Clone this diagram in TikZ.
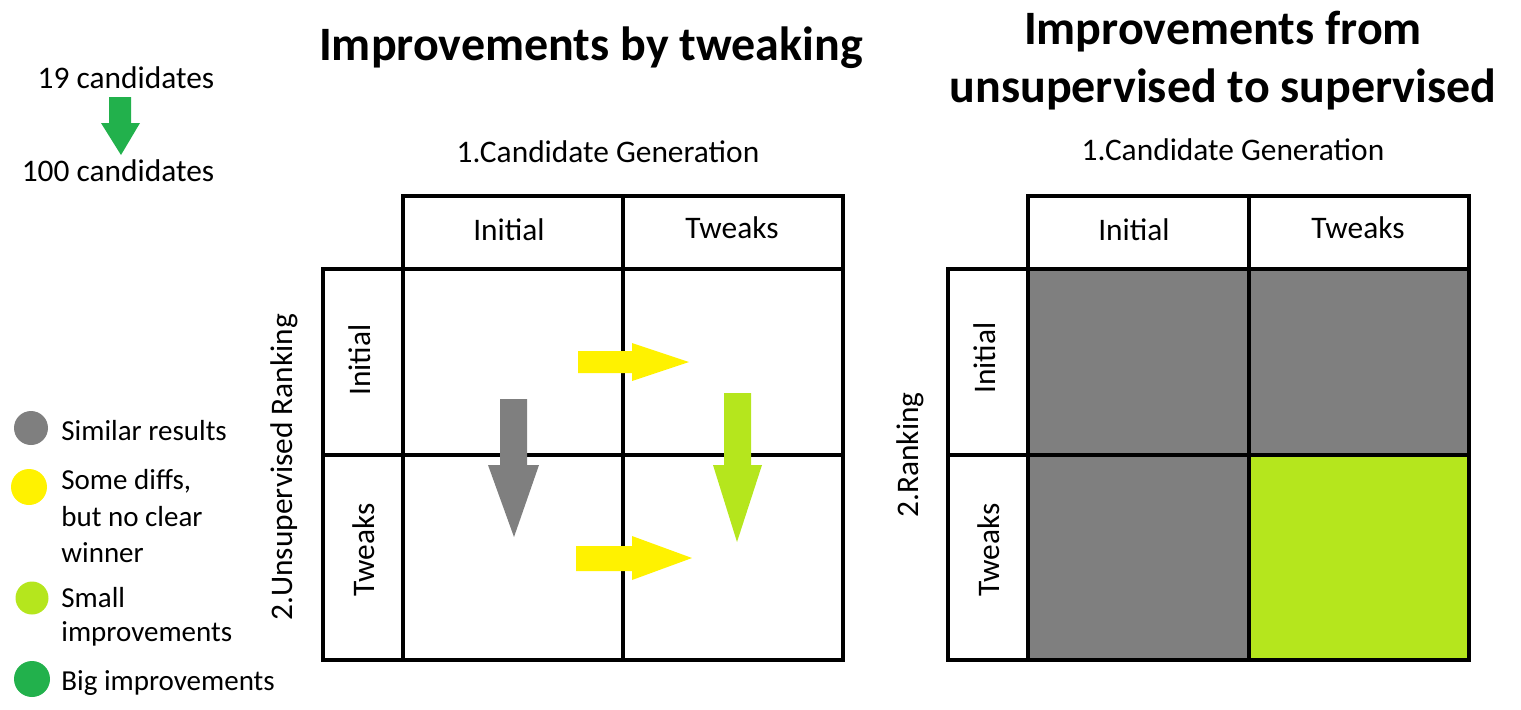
\documentclass[tikz,border=0pt]{standalone}
\usepackage{fontspec}
\setmainfont{Carlito}
\definecolor{pgray}{RGB}{127,127,127}
\definecolor{pyellow}{RGB}{255,242,0}
\definecolor{plime}{RGB}{181,230,29}
\definecolor{pgreen}{RGB}{34,177,76}
\begin{document}
\begin{tikzpicture}[x=0.5pt,y=-0.5pt,
  txt/.style={font=\fontsize{15.7}{18}\selectfont, inner sep=0},
  leg/.style={font=\fontsize{14.5}{18}\selectfont, inner sep=0, anchor=west},
  ttl/.style={font=\fontsize{24}{29}\selectfont\bfseries, inner sep=0, align=center},
  grid/.style={draw=black, line width=2pt},
  dot/.style={circle, inner sep=0, minimum size=17pt}]
\useasboundingbox (0,0) rectangle (1521,709);

% ---- top-left candidates ----
\node[txt] (c19) at (126,78) {19 candidates};
\node[txt] (c100) at (118,171) {100 candidates};
\fill[pgreen] (109,97) -- (131,97) -- (131,123) -- (140,123) -- (121,155) -- (101,123) -- (109,123) -- cycle;

% ---- legend ----
\node[dot, fill=pgray] (lg1) at (31,428) {};
\node[dot, fill=pyellow, minimum size=18pt] (lg2) at (29,487) {};
\node[dot, fill=plime, minimum size=16.5pt] (lg3) at (32,598) {};
\node[dot, fill=pgreen, minimum size=18pt] (lg4) at (32,679) {};
\node[leg] (t1) at (61,431) {Similar results};
\node[leg] (t2a) at (61,481) {Some diffs,};
\node[leg] (t2b) at (61,517) {but no clear};
\node[leg] (t2c) at (61,553) {winner};
\node[leg] (t3a) at (61,598) {Small};
\node[leg] (t3b) at (61,634) {improvements};
\node[leg] (t4) at (61,683) {Big improvements};

% ---- left panel ----
\node[ttl] (titleL) at (591,48) {Improvements by tweaking};
\node[txt] (cgL) at (608,152) {1.Candidate Generation};
\node[txt, rotate=90] (rkL) at (284,467) {2.Unsupervised Ranking};
\draw[grid] (403,196) rectangle (843,269);
\draw[grid] (323,269) rectangle (843,660);
\draw[grid] (623,196) -- (623,660);
\draw[grid] (403,269) -- (403,660);
\draw[grid] (323,455) -- (843,455);
\node[txt] (hL1) at (509,230) {Initial};
\node[txt] (hL2) at (732,228) {Tweaks};
\node[txt, rotate=90] (rL1) at (360,360) {Initial};
\node[txt, rotate=90] (rL2) at (364,550) {Tweaks};

% arrows
\fill[pgray] (500,399) -- (527,399) -- (527,465) -- (539,465) -- (514,537) -- (488,465) -- (500,465) -- cycle;
\fill[plime] (724,393) -- (751,393) -- (751,465) -- (762,465) -- (737,542) -- (713,465) -- (724,465) -- cycle;
\fill[pyellow] (578,351) -- (632,351) -- (632,343) -- (689,362) -- (632,381) -- (632,373) -- (578,373) -- cycle;
\fill[pyellow] (576,546) -- (632,546) -- (632,536) -- (692,558) -- (632,580) -- (632,571) -- (576,571) -- cycle;

% ---- right panel ----
\node[ttl] (titleR) at (1223,61) {Improvements from\\unsupervised to supervised};
\node[txt] (cgR) at (1233,150) {1.Candidate Generation};
\node[txt, rotate=90] (rkR) at (910,455) {2.Ranking};
\fill[pgray] (1028,269) rectangle (1469,660);
\fill[plime] (1249,455) rectangle (1469,660);
\draw[grid] (1028,196) rectangle (1469,269);
\draw[grid] (948,269) rectangle (1469,660);
\draw[grid] (1249,196) -- (1249,660);
\draw[grid] (1028,269) -- (1028,660);
\draw[grid] (948,455) -- (1469,455);
\node[txt] (hR1) at (1134,230) {Initial};
\node[txt] (hR2) at (1358,228) {Tweaks};
\node[txt, rotate=90] (rR1) at (985,358) {Initial};
\node[txt, rotate=90] (rR2) at (989,550) {Tweaks};
\end{tikzpicture}
\end{document}
